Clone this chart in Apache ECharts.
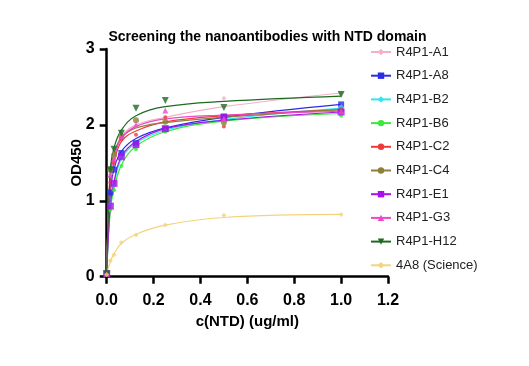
<!DOCTYPE html>
<html><head><meta charset="utf-8">
<script src="https://cdn.jsdelivr.net/npm/echarts@6/dist/echarts.min.js"></script>
<style>html,body{margin:0;padding:0;background:#fff}#c{width:529px;height:366px}</style>
</head><body><div id="c"></div>
<script>
const conc = [0, 0.0156, 0.03125, 0.0625, 0.125, 0.25, 0.5, 1.0];
const names = ['R4P1-A1','R4P1-A8','R4P1-B2','R4P1-B6','R4P1-C2','R4P1-C4','R4P1-E1','R4P1-G3','R4P1-H12','4A8 (Science)'];
// measured points
const ptA1  = [0.04,1.35,1.58,1.88,1.98,2.08,2.35,2.42];
const ptA8  = [0.04,1.11,1.41,1.63,1.76,1.95,2.11,2.27];
const ptB2  = [0.04,0.95,1.20,1.57,1.71,1.93,2.07,2.24];
const ptB6  = [0.04,0.88,1.14,1.46,1.68,1.91,2.05,2.12];
const ptC2  = [0.04,1.24,1.50,1.81,1.87,2.10,1.98,2.20];
const ptC4  = [0.04,1.41,1.60,1.85,2.06,2.04,2.03,2.20];
const ptE1  = [0.04,0.93,1.23,1.58,1.74,1.95,2.10,2.17];
const ptG3  = [0.04,1.34,1.55,1.85,2.00,2.19,2.08,2.18];
const ptH12 = [0.04,1.41,1.68,1.89,2.22,2.32,2.23,2.40];
const pt4A8 = [0.03,0.21,0.29,0.45,0.55,0.68,0.81,0.82];
// fitted curve values
const fitA1  = [0.04,1.36,1.60,1.85,2.00,2.10,2.24,2.42];
const fitA8  = [0.04,1.10,1.42,1.65,1.82,1.96,2.10,2.27];
const fitB2  = [0.04,0.95,1.22,1.55,1.76,1.93,2.07,2.22];
const fitB6  = [0.04,0.88,1.15,1.47,1.72,1.91,2.05,2.15];
const fitC2  = [0.04,1.22,1.50,1.78,1.92,2.04,2.12,2.20];
const fitC4  = [0.04,1.40,1.62,1.83,1.96,2.03,2.10,2.20];
const fitE1  = [0.04,0.95,1.25,1.58,1.78,1.95,2.06,2.17];
const fitG3  = [0.04,1.33,1.56,1.82,1.98,2.08,2.13,2.18];
const fitH12 = [0.04,1.42,1.70,1.93,2.12,2.24,2.31,2.38];
const fit4A8 = [0.03,0.20,0.30,0.44,0.56,0.68,0.78,0.82];
const xTicks = [0,0.2,0.4,0.6,0.8,1.0,1.2];
const yTicks = [0,1,2,3];

const points = [ptA1,ptA8,ptB2,ptB6,ptC2,ptC4,ptE1,ptG3,ptH12,pt4A8];
const fits = [fitA1,fitA8,fitB2,fitB6,fitC2,fitC4,fitE1,fitG3,fitH12,fit4A8];
const colors = ['#F5AFCB','#2B2BEA','#2FE6EE','#3BE83B','#EE3A3A','#8E7F3C','#A812E8','#EE48C8','#1C6B20','#F2D47E'];
const symbols = ['diamond','rect','diamond','circle','circle','circle','rect','triangle','path://M0,0 L10,0 L5,9 Z','diamond'];
const sizes = [5,6,5,4,4,6,7,6,7,5];

const series = [];
names.forEach((n,i)=>{
  series.push({
    name:n, type:'line', smooth:0.4, showSymbol:false,
    symbol:symbols[i], symbolSize:sizes[i],
    data: conc.map((x,j)=>[x,fits[i][j]]),
    lineStyle:{width:1.2,color:colors[i]}, itemStyle:{color:colors[i]},
    z:2, silent:true
  });
  series.push({
    name:n, type:'scatter', symbol:symbols[i], symbolSize:sizes[i],
    data: conc.map((x,j)=>[x,points[i][j]]),
    itemStyle:{color:colors[i]}, z:3
  });
});

const chart = echarts.init(document.getElementById('c'),null,{renderer:'canvas'});
chart.setOption({
  animation:false,
  title:{text:'Screening the nanoantibodies with NTD domain', left:262.5, textAlign:'center', top:25,
    textStyle:{fontFamily:'Liberation Sans',fontWeight:'bold',fontSize:14,color:'#000'}},
  grid:{left:106.7,right:141,top:49,bottom:89.3},
  legend:{data:names, orient:'vertical', left:365, top:40.5, itemWidth:20, itemHeight:8, itemGap:10.7,
    textStyle:{fontFamily:'Liberation Sans',fontSize:13,color:'#222'}},
  xAxis:{type:'value',min:0,max:1.2,interval:0.2,
    name:'c(NTD) (ug/ml)', nameLocation:'middle', nameGap:38, nameMoveOverlap:false,
    nameTextStyle:{fontFamily:'Liberation Sans',fontWeight:'bold',fontSize:15,color:'#000'},
    axisLine:{lineStyle:{color:'#000',width:2.5}},
    axisTick:{show:true,length:7,lineStyle:{width:2.5,color:'#000'}},
    axisLabel:{fontFamily:'Liberation Sans',fontWeight:'bold',fontSize:16,color:'#000',margin:16,
      formatter:v=>{const t=xTicks.find(a=>Math.abs(a-v)<1e-6);return t===undefined?'':t.toFixed(1);}},
    splitLine:{show:false}},
  yAxis:{type:'value',min:0,max:3,interval:1,
    name:'OD450', nameLocation:'middle', nameGap:22, nameMoveOverlap:false,
    nameTextStyle:{fontFamily:'Liberation Sans',fontWeight:'bold',fontSize:15,color:'#000'},
    axisLine:{show:true,lineStyle:{color:'#000',width:2.5}},
    axisTick:{show:true,length:7,lineStyle:{width:2.5,color:'#000'}},
    axisLabel:{fontFamily:'Liberation Sans',fontWeight:'bold',fontSize:16,color:'#000',margin:12,
      formatter:v=>{const t=yTicks.find(a=>Math.abs(a-v)<1e-6);return t===undefined?'':String(t);}},
    splitLine:{show:false}},
  series:series
});
</script></body></html>
